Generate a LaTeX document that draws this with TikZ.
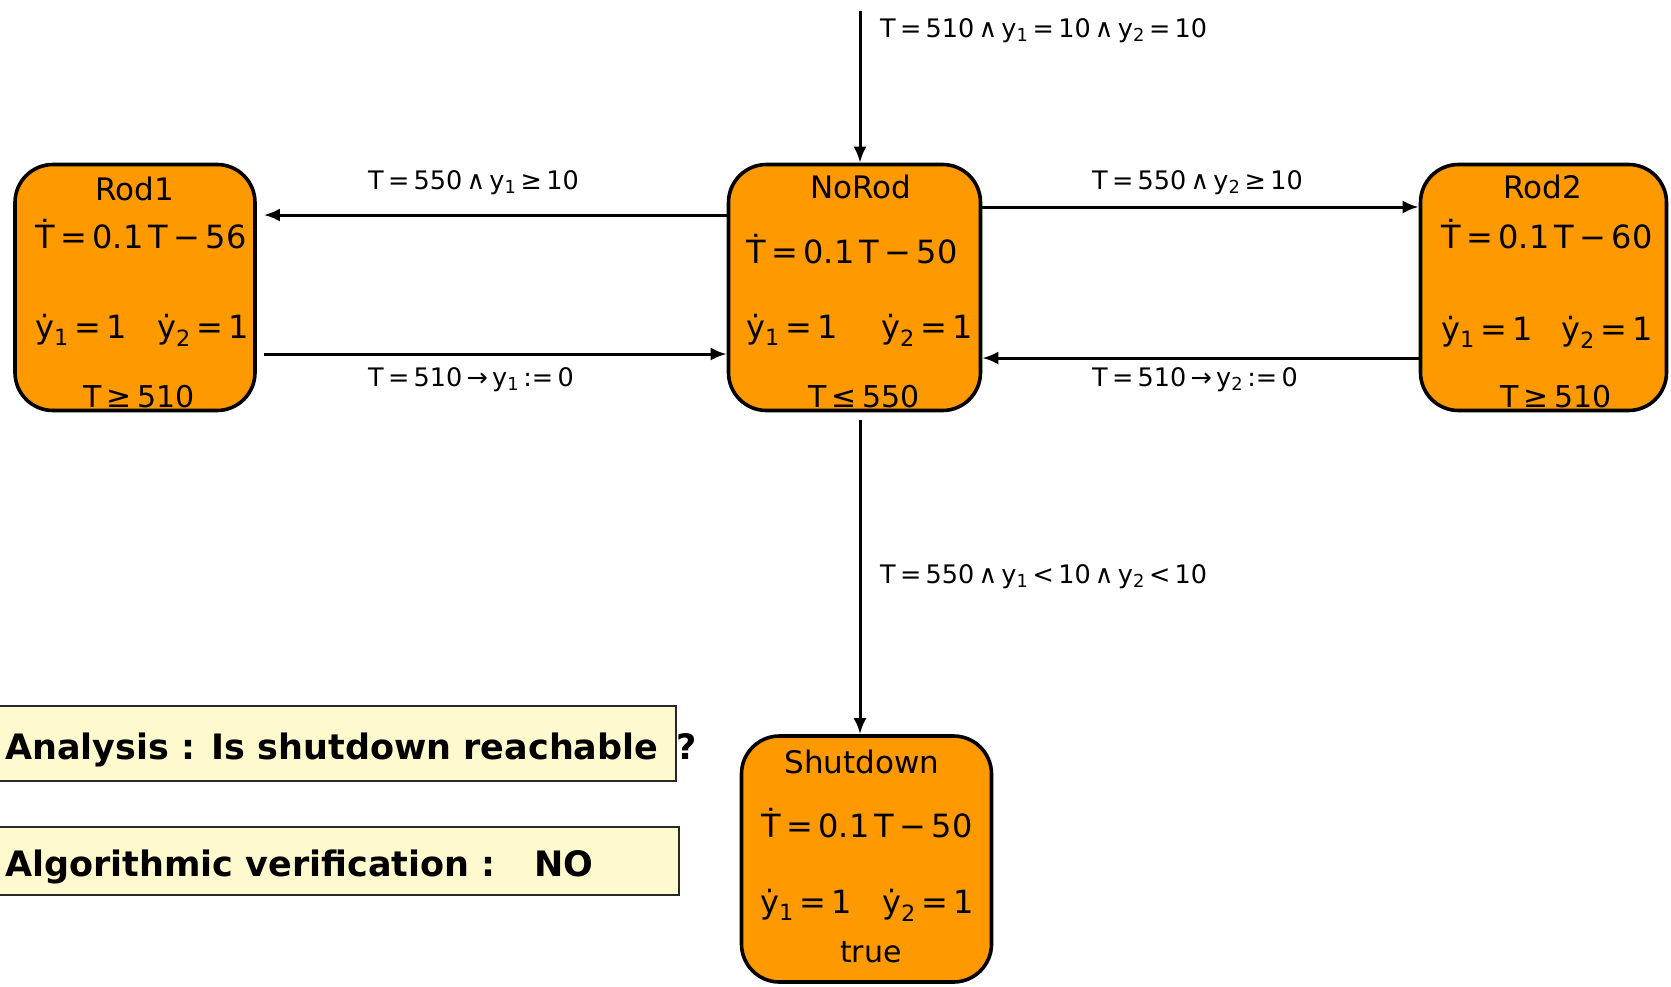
\documentclass[tikz,border=0pt]{standalone}
\usepackage{fontspec}
\setmainfont{DejaVu Sans}
\usetikzlibrary{arrows.meta, positioning}
\definecolor{modefill}{RGB}{255,153,0}
\definecolor{notefill}{RGB}{255,250,205}
\definecolor{noteline}{RGB}{40,40,40}

\begin{document}
\begin{tikzpicture}[x=1pt, y=-1pt,
  mode/.style={draw, line width=3.6pt, fill=modefill, rounded corners=38pt,
    inner sep=0pt, minimum height=246pt},
  modename/.style={anchor=base, inner sep=0pt, font=\fontsize{31}{37}\selectfont},
  flow/.style={anchor=base, inner sep=0pt, font=\fontsize{32}{38}\selectfont},
  rate/.style={anchor=base west, inner sep=0pt, font=\fontsize{32}{38}\selectfont},
  inv/.style={anchor=base, inner sep=0pt, font=\fontsize{30}{36}\selectfont},
  trans/.style={line width=3pt, -{Latex[length=16pt,width=13pt]}},
  guard/.style={anchor=base west, inner sep=0pt, font=\fontsize{25.5}{30}\selectfont},
  note/.style={draw=noteline, line width=2.4pt, fill=notefill, inner sep=0pt},
  notetext/.style={anchor=base west, inner sep=0pt,
    font=\bfseries\fontsize{35}{41}\selectfont}]
% Page is the size of the reference, one unit per pixel
\useasboundingbox (0,0) rectangle (1671,986);
% The four modes
\node [mode, minimum width=240pt] (rod1) at (135,287.5) {};
\node [mode, minimum width=252pt] (norod) at (854.5,287.5) {};
\node [mode, minimum width=246pt] (rod2) at (1543.5,287.5) {};
\node [mode, minimum width=250pt, minimum height=246pt] (shutdown) at (866.5,859) {};
% Mode Rod1
\node [modename] (rod1name) at (135,200) {Rod1};
\node [flow] (rod1flow) at (141,248) {Ṫ\,=\,0.1\,T\,−\,56};
\node [rate] (rod1ya) at (35,338) {ẏ\textsubscript{1}\,=\,1};
\node [rate] (rod1yb) at (157,338) {ẏ\textsubscript{2}\,=\,1};
\node [inv] (rod1inv) at (139,407) {T\,≥\,510};
% Mode NoRod
\node [modename] (norodname) at (861,198) {NoRod};
\node [flow] (norodflow) at (852,263) {Ṫ\,=\,0.1\,T\,−\,50};
\node [rate] (norodya) at (746,338) {ẏ\textsubscript{1}\,=\,1};
\node [rate] (norodyb) at (881,338) {ẏ\textsubscript{2}\,=\,1};
\node [inv] (norodinv) at (864,407) {T\,≤\,550};
% Mode Rod2
\node [modename] (rod2name) at (1543,198) {Rod2};
\node [flow] (rod2flow) at (1547,248) {Ṫ\,=\,0.1\,T\,−\,60};
\node [rate] (rod2ya) at (1441,340) {ẏ\textsubscript{1}\,=\,1};
\node [rate] (rod2yb) at (1561,340) {ẏ\textsubscript{2}\,=\,1};
\node [inv] (rod2inv) at (1556,407) {T\,≥\,510};
% Mode Shutdown
\node [modename] (shutname) at (862,773) {Shutdown};
\node [flow] (shutflow) at (867,837) {Ṫ\,=\,0.1\,T\,−\,50};
\node [rate] (shutya) at (760,913) {ẏ\textsubscript{1}\,=\,1};
\node [rate] (shutyb) at (882,913) {ẏ\textsubscript{2}\,=\,1};
\node [inv] (shutinv) at (871,962) {true};
% Free end of the initial arrow
\coordinate (start) at (860,11);
% Transitions
\draw [trans] (start) -- (start |- norod.north);
\draw [trans, shorten >=7pt] ([yshift=72.5pt]norod.west) -- ([yshift=72.5pt]rod1.east);
\draw [trans, shorten <=7pt] ([yshift=-66.5pt]rod1.east) -- ([yshift=-66.5pt]norod.west);
\draw [trans] ([yshift=80.5pt]norod.east) -- ([yshift=80.5pt]rod2.west);
\draw [trans] ([yshift=-70.5pt]rod2.west) -- ([yshift=-70.5pt]norod.east);
\draw [trans, shorten <=8pt] (start |- norod.south) -- (start |- shutdown.north);
% Guards and resets
\node [guard] (ginit) at (880,37) {T\,=\,510\,∧\,y\textsubscript{1}\,=\,10\,∧\,y\textsubscript{2}\,=\,10};
\node [guard] (gto1) at (368,189) {T\,=\,550\,∧\,y\textsubscript{1}\,≥\,10};
\node [guard] (gfrom1) at (368,386) {T\,=\,510\,→\,y\textsubscript{1}\,:=\,0};
\node [guard] (gto2) at (1092,189) {T\,=\,550\,∧\,y\textsubscript{2}\,≥\,10};
\node [guard] (gfrom2) at (1092,386) {T\,=\,510\,→\,y\textsubscript{2}\,:=\,0};
\node [guard] (gshut) at (880,583) {T\,=\,550\,∧\,y\textsubscript{1}\,<\,10\,∧\,y\textsubscript{2}\,<\,10};
% Question and answer
\node [note, minimum width=678pt, minimum height=75pt] (question) at (337,743.5) {};
\node [notetext] (qtext) at (5,759) {Analysis : Is shutdown reachable};
\node [notetext] (qmark) at (676,759) {?};
\node [note, minimum width=680pt, minimum height=68pt] (answer) at (339,861) {};
\node [notetext] (atext) at (5,876) {Algorithmic verification :\hspace{1.1em}NO};
\end{tikzpicture}
\end{document}
